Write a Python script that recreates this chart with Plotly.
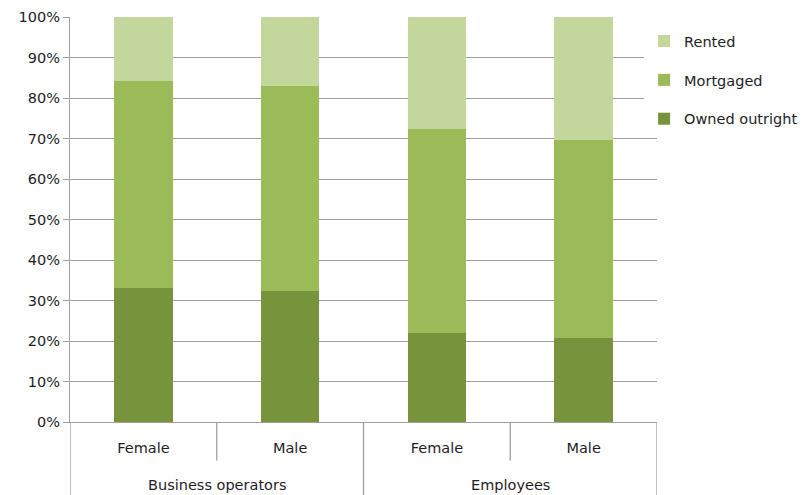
import plotly.graph_objects as go

# Housing tenure by worker type and sex (percent of each group)
groups = ["Business operators", "Employees"]
sexes = ["Female", "Male", "Female", "Male"]
owned_outright = [33.2, 32.3, 22.0, 20.7]
mortgaged = [51.1, 50.6, 50.3, 48.9]
rented = [15.7, 17.1, 27.7, 30.4]
y_ticks = [0, 10, 20, 30, 40, 50, 60, 70, 80, 90, 100]
y_tick_labels = [f"{v}%" for v in y_ticks]

x_pos = list(range(len(sexes)))
# (name, values, colour, legend rank) - stacked bottom to top
series = [
    ("Owned outright", owned_outright, "#77933C", 3),
    ("Mortgaged", mortgaged, "#9BBB59", 2),
    ("Rented", rented, "#C3D69B", 1),
]

grid_color = "#A0A0A0"
text_color = "#1E1E28"
font_family = "DejaVu Sans, Verdana, sans-serif"
fsize = 14.5

fig = go.Figure()
for name, vals, color, rank in series:
    fig.add_trace(go.Bar(
        x=x_pos, y=vals, name=name, legendgroup=name, legendrank=rank,
        marker=dict(color=color, line=dict(width=0)),
        width=0.4,
    ))

# Separator lines of the two-level category axis
shapes = []
n = len(sexes)
for b in [-0.5, 1.5, n - 0.5]:
    shapes.append(dict(type="line", xref="x", yref="paper",
                       x0=b, x1=b, y0=0, y1=-0.185,
                       line=dict(color=grid_color, width=1.3)))
for b in [0.5, 2.5]:
    shapes.append(dict(type="line", xref="x", yref="paper",
                       x0=b, x1=b, y0=0, y1=-0.095,
                       line=dict(color=grid_color, width=1.3)))

annotations = []
for i, g in enumerate(groups):
    annotations.append(dict(text=g, xref="x", yref="paper",
                            x=2 * i + 0.5, y=-0.155, showarrow=False,
                            xanchor="center", yanchor="middle",
                            font=dict(size=fsize, color=text_color, family=font_family)))

fig.update_layout(
    barmode="stack",
    width=803, height=495,
    margin=dict(l=70, r=146, t=17, b=73, autoexpand=False),
    paper_bgcolor="white", plot_bgcolor="white",
    shapes=shapes, annotations=annotations,
    font=dict(family=font_family, size=fsize, color=text_color),
    legend=dict(
        traceorder="grouped", tracegroupgap=17,
        x=0.978, xanchor="left", y=0.98, yanchor="top",
        font=dict(size=fsize, color=text_color, family=font_family),
        itemwidth=30,
    ),
    xaxis=dict(
        tickvals=x_pos, ticktext=sexes, range=[-0.5, n - 0.5],
        showgrid=False, showline=True, linecolor=grid_color, linewidth=1.3,
        ticks="", ticklabelstandoff=12, zeroline=False,
        tickfont=dict(size=fsize, color=text_color),
    ),
    yaxis=dict(
        range=[0, 100], tickvals=y_ticks, ticktext=y_tick_labels,
        showgrid=True, gridcolor=grid_color, gridwidth=1.3,
        showline=True, linecolor=grid_color, linewidth=1.3,
        ticks="outside", ticklen=6, tickcolor=grid_color, tickwidth=1.3,
        zeroline=False, tickfont=dict(size=fsize, color=text_color),
    ),
)

fig.write_html("out.html")
